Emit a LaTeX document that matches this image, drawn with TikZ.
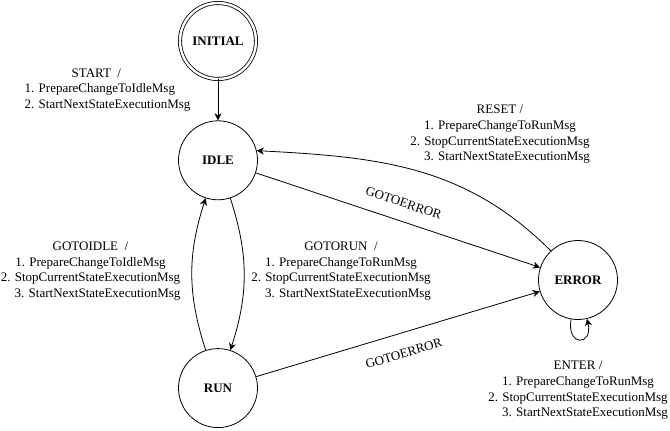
\documentclass[tikz,border=0pt]{standalone}
\usepackage{fontspec}
\setmainfont{Liberation Serif}
\usetikzlibrary{positioning, arrows.meta}

\begin{document}
\begin{tikzpicture}[x=1pt, y=1pt, thick, >={Stealth[length=7pt, width=7pt, inset=2pt]},
  state/.style = {draw, circle, minimum size=79pt, inner sep=0pt, font=\bfseries\fontsize{13}{15.7}\selectfont},
  initstate/.style = {state, minimum size=76pt, double, double distance=2.4pt},
  msg/.style = {align=center, font=\fontsize{13}{15.7}\selectfont}]
\useasboundingbox (0,0) rectangle (670,431);
\node[initstate] (initial) at (218,390) {INITIAL};
\node[state] (idle) [below=41pt of initial] {IDLE};
\node[state] (run) [below=148pt of idle] {RUN};
\node[state] (error) at (578,151) {ERROR};

\node[msg, align=left] (startmsg) at (107.5,341) {\hspace*{47pt}START\ \ /\\1. PrepareChangeToIdleMsg\\2. StartNextStateExecutionMsg};
\node[msg] (gotoidlemsg) at (90.5,160) {GOTOIDLE\ \ /\\1. PrepareChangeToIdleMsg\\2. StopCurrentStateExecutionMsg\\\hspace*{14pt}3. StartNextStateExecutionMsg};
\node[msg] (gotorunmsg) at (341,160) {GOTORUN\ \ /\\1. PrepareChangeToRunMsg\\2. StopCurrentStateExecutionMsg\\\hspace*{14pt}3. StartNextStateExecutionMsg};
\node[msg] (resetmsg) at (500,296.5) {RESET /\\1. PrepareChangeToRunMsg\\2. StopCurrentStateExecutionMsg\\\hspace*{14pt}3. StartNextStateExecutionMsg};
\node[msg] (entermsg) at (578,40.5) {ENTER /\\1. PrepareChangeToRunMsg\\2. StopCurrentStateExecutionMsg\\\hspace*{14pt}3. StartNextStateExecutionMsg};

\draw[->] (initial) -- (idle);
\draw[->] (idle) to[bend left=18] (run);
\draw[->] (run) to[bend left=18] (idle);
\draw[->] (idle) -- node[msg, sloped, above=10pt] (idleerr) {GOTOERROR} (error);
\draw[->] (run) -- node[msg, sloped, below=12pt] (runerr) {GOTOERROR} (error);
\draw[->] (error.133) to[out=135, in=-3] (idle.14);
\draw[->] (error.-100) to[out=-100, in=-77, distance=28pt] (error.-77);
\end{tikzpicture}
\end{document}
